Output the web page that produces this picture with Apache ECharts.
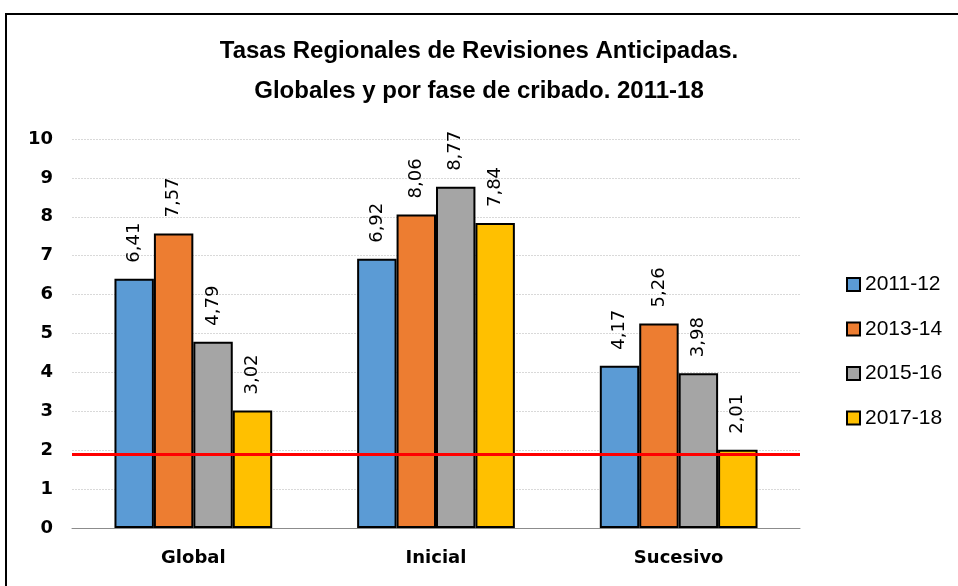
<!DOCTYPE html>
<html>
<head>
<meta charset="utf-8">
<script src="https://cdn.jsdelivr.net/npm/echarts@6/dist/echarts.min.js"></script>
<style>
  html, body { margin: 0; padding: 0; background: #ffffff; }
  .myChartBox { width: 958px; height: 586px; }
</style>
</head>
<body>
<div class="myChartBox" id="chart"></div>
<script>
  // datos
  var categorias = ['Global', 'Inicial', 'Sucesivo'];
  var periodos = ['2011-12', '2013-14', '2015-16', '2017-18'];
  var colores = ['#5B9BD5', '#ED7D31', '#A5A5A5', '#FFC000'];
  var v2011 = [6.41, 6.92, 4.17];
  var v2013 = [7.57, 8.06, 5.26];
  var v2015 = [4.79, 8.77, 3.98];
  var v2017 = [3.02, 7.84, 2.01];
  var referencia = 1.9;
  var yTicks = [0, 1, 2, 3, 4, 5, 6, 7, 8, 9, 10];

  var valores = [v2011, v2013, v2015, v2017];

  var myChart = echarts.init(document.getElementById('chart'));

  var series = periodos.map(function (p, i) {
    var s = {
      name: p,
      type: 'bar',
      data: valores[i],
      barGap: '0%',
      barCategoryGap: '35%',
      itemStyle: {
        color: colores[i],
        borderColor: '#000000',
        borderWidth: 2
      },
      label: {
        show: true,
        position: 'top',
        rotate: 90,
        align: 'left',
        verticalAlign: 'middle',
        distance: 16,
        color: '#000000',
        fontFamily: 'DejaVu Sans',
        fontSize: 18,
        formatter: function (d) { return d.value.toFixed(2).replace('.', ','); }
      }
    };
    if (i === 0) {
      s.markLine = {
        silent: true,
        symbol: 'none',
        label: { show: false },
        lineStyle: { color: '#FF0000', width: 3, type: 'solid' },
        data: [{ yAxis: referencia }]
      };
    }
    return s;
  });

  var estiloTitulo = {
    fontFamily: 'Liberation Sans',
    fontWeight: 'bold',
    fontSize: 24,
    color: '#000000'
  };

  var option = {
    animation: false,
    title: [
      { text: 'Tasas Regionales de Revisiones Anticipadas.', left: 'center', top: 34, textStyle: estiloTitulo },
      { text: 'Globales y por fase de cribado. 2011-18', left: 'center', top: 74, textStyle: estiloTitulo }
    ],
    legend: {
      orient: 'vertical',
      left: 841,
      top: 269,
      itemWidth: 13,
      itemHeight: 13,
      itemGap: 23.5,
      icon: 'rect',
      data: periodos,
      textStyle: {
        fontFamily: 'Liberation Sans',
        fontSize: 21,
        color: '#000000'
      }
    },
    grid: {
      left: 72,
      right: 158,
      top: 139,
      bottom: 58,
      containLabel: false
    },
    xAxis: {
      type: 'category',
      data: categorias,
      axisTick: { show: false },
      axisLine: { lineStyle: { color: '#8c8c8c', width: 1 } },
      axisLabel: {
        margin: 21,
        color: '#000000',
        fontFamily: 'DejaVu Sans',
        fontWeight: 'bold',
        fontSize: 18
      }
    },
    yAxis: {
      type: 'value',
      min: yTicks[0],
      max: yTicks[yTicks.length - 1],
      interval: 1,
      axisLine: { show: false },
      axisTick: { show: false },
      axisLabel: {
        margin: 19,
        color: '#000000',
        fontFamily: 'DejaVu Sans',
        fontWeight: 'bold',
        fontSize: 18
      },
      splitLine: {
        show: true,
        lineStyle: { color: '#d9d9d9', width: 1, type: [2, 1] }
      }
    },
    graphic: [
      {
        type: 'rect',
        shape: { x: 6, y: 14, width: 1000, height: 1000 },
        style: { fill: 'none', stroke: '#000000', lineWidth: 2 },
        silent: true
      }
    ],
    series: series
  };

  myChart.setOption(option);
</script>
</body>
</html>
